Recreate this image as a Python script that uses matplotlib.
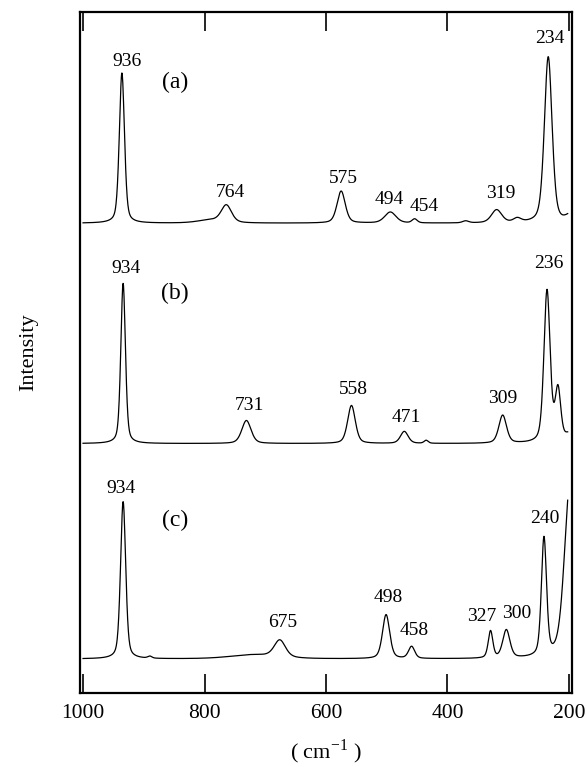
import numpy as np
import matplotlib
matplotlib.use('Agg')
import matplotlib.pyplot as plt

plt.rcParams['font.family'] = ['Liberation Serif', 'DejaVu Serif']
plt.rcParams['mathtext.fontset'] = 'custom'
plt.rcParams['mathtext.rm'] = 'Liberation Serif'

# peak tables: position (cm-1), height, width (fwhm)
pos_a = [936, 790, 764, 575, 494, 454, 370, 319, 285, 234, 196]
amp_a = [150, 3, 17, 32, 11, 4, 2, 13, 4, 166, 8]
wid_a = [10, 50, 20, 16, 22, 10, 12, 20, 15, 15, 20]

pos_b = [934, 731, 558, 471, 435, 309, 236, 218, 200]
amp_b = [160, 23, 38, 12, 3, 28, 152, 52, 8]
wid_b = [9, 18, 15, 15, 8, 15, 12, 11, 15]

pos_c = [934, 890, 720, 676, 501, 459, 329, 303, 241, 198]
amp_c = [157, 2, 4, 17, 44, 12, 27, 28, 118, 175]
wid_c = [10, 8, 90, 22, 14, 12, 9, 14, 10, 22]

base = [469, 249, 34]
names = ['(a)', '(b)', '(c)']

# peak labels (text, x, y)
lab_a = [('936', 927, 630), ('764', 757, 500), ('575', 571, 514), ('494', 495, 493),
         ('454', 438, 486), ('319', 312, 499), ('234', 231, 653)]
lab_b = [('934', 929, 424), ('731', 726, 287), ('558', 555, 303), ('471', 467, 275),
         ('309', 309, 294), ('236', 233, 429)]
lab_c = [('934', 937, 204), ('675', 671, 70), ('498', 497, 95), ('458', 455, 62),
         ('327', 343, 76), ('300', 286, 79), ('240', 240, 174)]
name_y = [610, 399, 172]


def spectrum(x, pos, amp, wid, eta=0.4):
    y = np.zeros_like(x)
    for p, a, w in zip(pos, amp, wid):
        g = (w / 2) ** 2
        lor = g / ((x - p) ** 2 + g)
        gau = np.exp(-4 * np.log(2) * (x - p) ** 2 / w ** 2)
        y += a * (eta * lor + (1 - eta) * gau)
    return y


x = np.linspace(1000, 202, 2000)

fig = plt.figure(figsize=(5.87, 7.67), dpi=100)
ax = fig.add_axes([0.1363, 0.0965, 0.838, 0.888])

tables = [(pos_a, amp_a, wid_a), (pos_b, amp_b, wid_b), (pos_c, amp_c, wid_c)]
for i, (p, a, w) in enumerate(tables):
    ax.plot(x, base[i] + spectrum(x, p, a, w), color='black', lw=0.9)

for labs in [lab_a, lab_b, lab_c]:
    for t, lx, ly in labs:
        ax.text(lx, ly, t, ha='center', va='center', fontsize=14)
for n, ny in zip(names, name_y):
    ax.text(849, ny, n, ha='center', va='center', fontsize=17)

ax.set_xlim(1005, 195)
ax.set_ylim(0, 680)
ax.set_xticks([1000, 800, 600, 400, 200])
ax.set_yticks([])
ax.tick_params(axis='x', direction='in', length=14, width=1.2, top=True,
               labelsize=15.5, pad=8)
for s in ax.spines.values():
    s.set_linewidth(1.6)
ax.set_ylabel('Intensity', fontsize=16, labelpad=30)
ax.set_xlabel('( cm$^{\\mathregular{-1}}$ )', fontsize=16, labelpad=10)

fig.savefig('out.png', dpi=100)
